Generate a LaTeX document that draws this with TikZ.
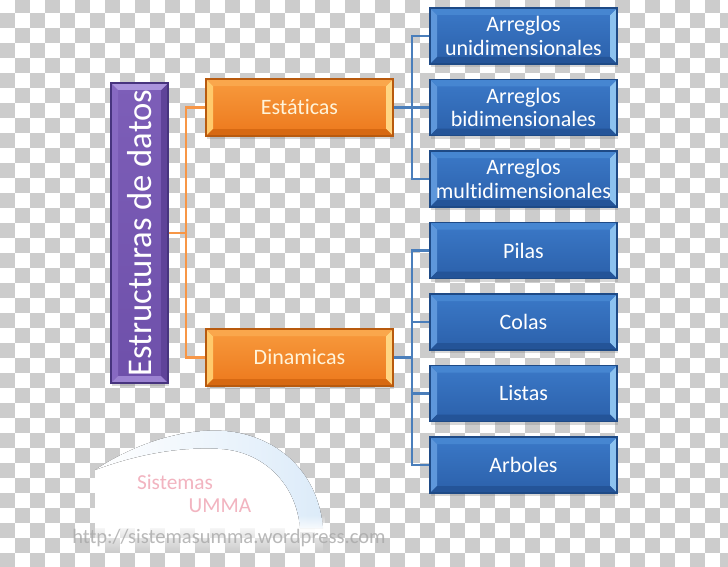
\documentclass[tikz,border=0pt]{standalone}
\usepackage{fontspec}
\usepackage{graphicx}
\setmainfont{Carlito}[Ligatures=NoCommon]
\usetikzlibrary{shadows,fadings}
\definecolor{checkgray}{HTML}{CCCCCC}
\definecolor{bluetop}{HTML}{3B79C8}
\definecolor{bluebot}{HTML}{2B60AA}
\definecolor{blueedge}{HTML}{1E4A86}
\definecolor{blueleft}{HTML}{5E97DB}
\definecolor{blueright}{HTML}{8CC2EF}
\definecolor{bluetopb}{HTML}{4686D1}
\definecolor{bluebotb}{HTML}{245498}
\definecolor{orgtop}{HTML}{F89B3E}
\definecolor{orgbot}{HTML}{EC781C}
\definecolor{orgedge}{HTML}{B85A0E}
\definecolor{orgleft}{HTML}{FFCA6C}
\definecolor{orgright}{HTML}{FFD582}
\definecolor{orgtopb}{HTML}{FAA74C}
\definecolor{orgbotb}{HTML}{D76912}
\definecolor{purtop}{HTML}{7D5EB8}
\definecolor{purbot}{HTML}{6E50AA}
\definecolor{puredge}{HTML}{47347E}
\definecolor{purtopb}{HTML}{AA94DC}
\definecolor{purbotb}{HTML}{9C83D1}
\definecolor{purleftb}{HTML}{8769C2}
\definecolor{purrightb}{HTML}{5F4399}
\definecolor{orgline}{HTML}{F79646}
\definecolor{blueline}{HTML}{4A7EBB}
\definecolor{orgtext}{HTML}{FFF4DA}
\definecolor{wmpink}{HTML}{F2B4C0}
\definecolor{wmblue}{HTML}{DCEBF9}
\definecolor{wmgray}{HTML}{A8A8A8}
\tikzset{
  bevelpic/.style n args={4}{path picture={
    \fill[#1] (path picture bounding box.north west) -- ++(7,7)
      -- ([shift={(7,-7)}]path picture bounding box.south west)
      -- (path picture bounding box.south west) -- cycle;
    \fill[#2] (path picture bounding box.north east) -- ++(-7,7)
      -- ([shift={(-7,-7)}]path picture bounding box.south east)
      -- (path picture bounding box.south east) -- cycle;
    \fill[#3] (path picture bounding box.north west)
      -- (path picture bounding box.north east) -- ++(-7,7)
      -- ([shift={(7,7)}]path picture bounding box.north west) -- cycle;
    \fill[#4] (path picture bounding box.south west)
      -- (path picture bounding box.south east) -- ++(-7,-7)
      -- ([shift={(7,-7)}]path picture bounding box.south west) -- cycle;
  }},
  boxbase/.style={line width=0.8pt, inner sep=0pt, align=center,
    font=\fontsize{16.5}{17.6}\selectfont,
    drop shadow={opacity=0.3, shadow xshift=0.8pt, shadow yshift=-2.4pt}},
  bluebox/.style={boxbase, draw=blueedge, top color=bluetop, bottom color=bluebot,
    text=white, minimum width=140.25pt, minimum height=42pt,
    bevelpic={blueleft}{blueright}{bluetopb}{bluebotb}},
  orgbox/.style={boxbase, draw=orgedge, top color=orgtop, bottom color=orgbot,
    text=orgtext, minimum width=140.25pt, minimum height=42.75pt,
    bevelpic={orgleft}{orgright}{orgtopb}{orgbotb}},
  purbox/.style={boxbase, draw=puredge, top color=purtop, bottom color=purbot,
    text=white, minimum width=42.75pt, minimum height=225pt,
    font=\fontsize{26}{28}\selectfont,
    bevelpic={purleftb}{purrightb}{purtopb}{purbotb}},
  oline/.style={draw=orgline, line width=2.2pt},
  bline/.style={draw=blueline, line width=2.2pt},
  wmtext/.style={text=wmpink, font=\fontsize{16}{18}\selectfont},
}
\begin{document}
\begin{tikzpicture}[x=0.75pt,y=-0.75pt]
\useasboundingbox (0,0) rectangle (728,567);
% transparency checkerboard
\fill[white] (0,0) rectangle (728,567);
\begin{scope}
\clip (0,0) rectangle (728,567);
\foreach \i in {0,...,48}{
  \foreach \j in {0,...,38}{
    \pgfmathtruncatemacro\chk{mod(\i+\j,2)}
    \ifnum\chk=1
      \fill[checkgray] (15*\i,15*\j-2) rectangle ++(15,15);
    \fi
  }
}
\end{scope}
% watermark
\fill[white] (95,470) .. controls (140,440) and (190,428) .. (225,431)
  .. controls (275,435) and (318,470) .. (323,528) -- (95,528) -- cycle;
\fill[white, path fading=south] (95,522) rectangle (323,552);
\fill[left color=white, right color=wmblue]
  (95,470) .. controls (140,440) and (190,428) .. (225,431)
  .. controls (275,435) and (318,470) .. (323,528)
  -- (300,528) .. controls (296,482) and (262,452) .. (222,449)
  .. controls (180,446) and (135,455) .. (95,470) -- cycle;
\fill[white, path fading=north] (290,515) rectangle (325,532);
\node[wmtext] (wm1) at (175,482) {Sistemas};
\node[wmtext] (wm2) at (220,506) {UMMA};
\node[text=wmgray, opacity=0.8, font=\fontsize{15.4}{17}\selectfont] (wm3) at (229,538) {http://sistemasumma.wordpress.com};
% nodes
\node[purbox] (sd) at (139.5,233) {\rotatebox{90}{Estructuras de datos}};
\node[orgbox] (est) at (299.5,107.5) {Estáticas};
\node[orgbox] (din) at (299.5,357.5) {Dinamicas};
\node[bluebox] (a1) at (523.5,36) {Arreglos\\unidimensionales};
\node[bluebox] (a2) at (523.5,107.5) {Arreglos\\bidimensionales};
\node[bluebox] (a3) at (523.5,179) {Arreglos\\multidimensionales};
\node[bluebox] (d1) at (523.5,250.5) {Pilas};
\node[bluebox] (d2) at (523.5,322) {Colas};
\node[bluebox] (d3) at (523.5,393.5) {Listas};
\node[bluebox] (d4) at (523.5,465) {Arboles};
% connectors
\coordinate (oj) at (186,233);
\coordinate (bj1) at (412,107.5);
\coordinate (bj2) at (412,357.5);
\draw[oline] (est.west) -| (oj) |- (din.west);
\draw[oline] (sd.east) -- (oj);
\draw[bline] (a1.west) -| (bj1) |- (a3.west);
\draw[bline] (est.east) -- (a2.west);
\draw[bline] (d1.west) -| (bj2) |- (d4.west);
\draw[bline] (din.east) -- (bj2);
\draw[bline] (bj2 |- d2.west) -- (d2.west);
\draw[bline] (bj2 |- d3.west) -- (d3.west);
\end{tikzpicture}
\end{document}
